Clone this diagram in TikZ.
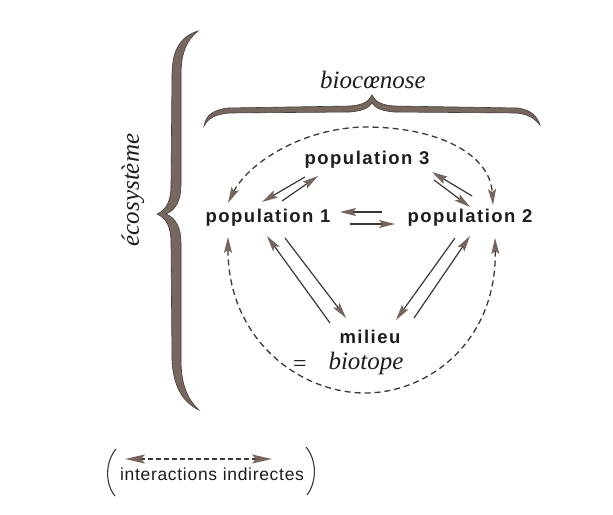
\documentclass[tikz,border=0pt]{standalone}
\usepackage{fontspec}
\usetikzlibrary{arrows.meta,calc}
\newfontfamily\labfont{Liberation Sans}[LetterSpace=8]
\newfontfamily\legfont{Liberation Sans}[LetterSpace=4]
\newfontfamily\itfont{Liberation Serif}
\definecolor{ink}{HTML}{1F1C1B}
\definecolor{bracecol}{HTML}{76675F}
\definecolor{braceedge}{HTML}{463C38}
\definecolor{headcol}{HTML}{75655E}
\definecolor{shaft}{HTML}{3E3735}
\begin{document}
\begin{tikzpicture}[x=1pt,y=-1pt,
  lbl/.style={font=\labfont\bfseries\fontsize{18.5}{20}\selectfont, text=ink, inner sep=0pt},
  ital/.style={font=\itfont\itshape\fontsize{25}{28}\selectfont, text=ink, inner sep=0pt},
  leg/.style={font=\legfont\fontsize{17.5}{19}\selectfont, text=ink, inner sep=0pt},
  arr/.style={draw=shaft, line width=1.2pt, -{Stealth[length=16pt,width=8pt,inset=3pt,color=headcol]}},
  darr/.style={draw=shaft, line width=1.3pt, dash pattern=on 6pt off 4pt,
    {Stealth[length=16pt,width=8pt,inset=3pt,color=headcol]}-{Stealth[length=16pt,width=8pt,inset=3pt,color=headcol]}},
  bigarr/.style={draw=shaft, line width=1.4pt, dash pattern=on 5pt off 3pt,
    {Stealth[length=20pt,width=9pt,inset=4pt,color=headcol]}-{Stealth[length=20pt,width=9pt,inset=4pt,color=headcol]}},
  bracefill/.style={fill=bracecol, draw=braceedge, line width=0.6pt},
  paren/.style={draw=shaft, line width=1.1pt}
]
\useasboundingbox (0,0) rectangle (613,514);
\fill[white] (0,0) rectangle (613,514);

% big vertical brace (ecosysteme)
\path[bracefill] (198,31) .. controls (182,36) and (172,48) .. (172,75) -- (171,185)
  .. controls (171,202) and (166,210) .. (157,214)
  .. controls (166,218) and (171,226) .. (171,243) -- (172,360)
  .. controls (173,385) and (182,402) .. (199,410)
  .. controls (188,400) and (181,385) .. (181,360) -- (181,243)
  .. controls (181,228) and (176,218) .. (166,214)
  .. controls (176,210) and (181,200) .. (181,185) -- (181,75)
  .. controls (181,52) and (187,40) .. (198,31) -- cycle;
\node[ital, rotate=90] (eco) at (133,190) {écosystème};

% horizontal brace (biocoenose)
\path[bracefill] (204,126) .. controls (206,115) and (213,110) .. (228,108) -- (350,106)
  .. controls (364,105) and (369,101) .. (372,95)
  .. controls (375,101) and (380,105) .. (394,106) -- (518,108)
  .. controls (531,110) and (537,116) .. (540,125)
  .. controls (534,118) and (528,114) .. (516,113) -- (394,112)
  .. controls (382,111) and (375,108) .. (372,103)
  .. controls (369,108) and (362,111) .. (350,112) -- (230,113)
  .. controls (216,114) and (208,118) .. (204,126) -- cycle;
\node[ital] (bioc) at (373,80) {biocœnose};

% labels
\node[lbl] (p1) at (268,218) {population 1};
\node[lbl] (p2) at (470,218) {population 2};
\node[lbl] (p3) at (367,160) {population 3};
\node[lbl] (mil) at (370,337) {milieu};
\node[ital] (bio) at (366,363) {biotope};
\node[font=\itfont\fontsize{24}{26}\selectfont, text=ink, inner sep=0pt] (eq) at (300,366) {=};

% direct interactions
\draw[arr] ([shift={(-62,17)}]p3.center) -- ([shift={(-6,-16)}]p1.center);
\draw[arr] ([shift={(14,-17)}]p1.center) -- ([shift={(-49,16)}]p3.center);
\draw[arr] ([shift={(2,-22)}]p2.center) -- ([shift={(65,12)}]p3.center);
\draw[arr] ([shift={(67,20)}]p3.center) -- ([shift={(0,-11)}]p2.center);
\draw[arr] ([shift={(-88,-6)}]p2.center) -- ([shift={(72,-6)}]p1.center);
\draw[arr] ([shift={(82,6)}]p1.center) -- ([shift={(-75,6)}]p2.center);
\draw[arr] ([shift={(-40,-14)}]mil.center) -- ([shift={(-1,18)}]p1.center);
\draw[arr] ([shift={(17,20)}]p1.center) -- ([shift={(-24,-19)}]mil.center);
\draw[arr] ([shift={(-15,20)}]p2.center) -- ([shift={(26,-17)}]mil.center);
\draw[arr] ([shift={(44,-19)}]mil.center) -- ([shift={(0,18)}]p2.center);

% indirect interactions
\draw[darr] ([shift={(-40,-15)}]p1.center) .. controls (247,165) and (300,128) .. (365,127)
  .. controls (440,127) and (490,155) .. ([shift={(23,-13)}]p2.center);
\draw[darr] ([shift={(-40,19)}]p1.center) .. controls (228,340) and (300,393) .. (365,393)
  .. controls (430,393) and (497,340) .. ([shift={(25,20)}]p2.center);

% legend
\coordinate (la) at (125,459);
\coordinate (lb) at (272,459);
\draw[bigarr] (la) -- (lb);
\node[leg] (legtext) at (212,474) {interactions indirectes};
\draw[paren] (116,449) .. controls (105,462) and (105,484) .. (115,496);
\draw[paren] (306,447) .. controls (317,460) and (317,482) .. (307,495);
\end{tikzpicture}
\end{document}
